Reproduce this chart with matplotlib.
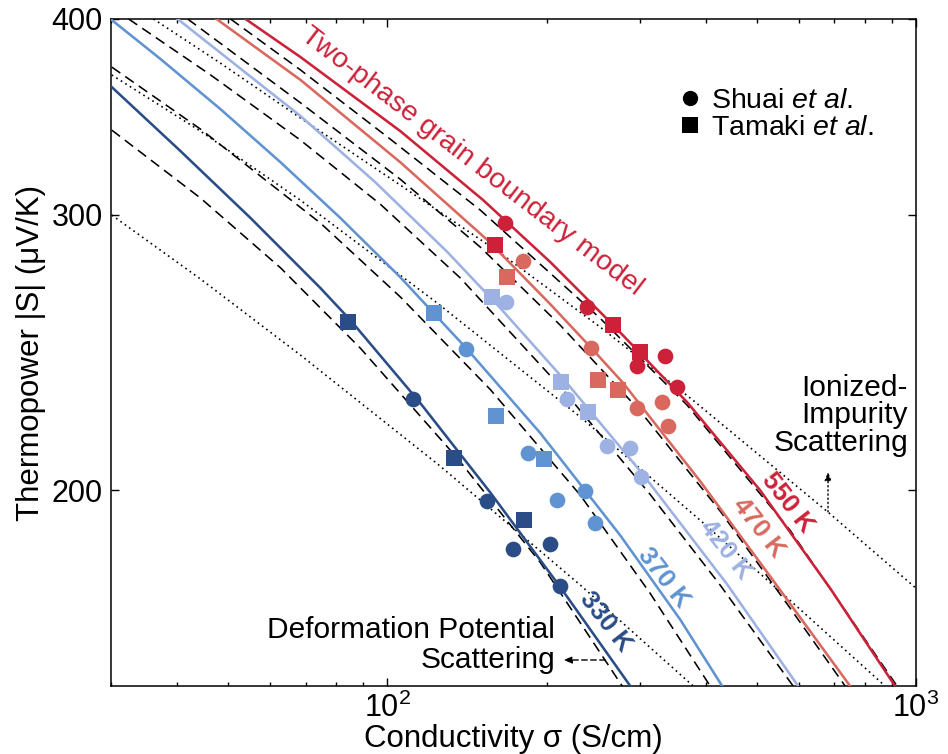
import matplotlib
matplotlib.use('Agg')
import matplotlib.pyplot as plt
from matplotlib.lines import Line2D
from matplotlib.ticker import FixedLocator, NullLocator, FuncFormatter, LogLocator

plt.rcParams['font.family'] = ['Liberation Sans', 'DejaVu Sans']
plt.rcParams['mathtext.fontset'] = 'custom'
plt.rcParams['mathtext.rm'] = 'Liberation Sans'
plt.rcParams['mathtext.it'] = 'Liberation Sans:italic'
plt.rcParams['mathtext.bf'] = 'Liberation Sans:bold'

# ---------------- data ----------------
temperatures = ['330 K', '370 K', '420 K', '470 K', '550 K']
colors = ['#2A4C87', '#5F93D1', '#9DB1E2', '#D9695F', '#CC2139']

# two-phase grain boundary model (solid)
model_sigma = {
    '330 K': [30.1, 40.6, 55.1, 74.7, 85.1, 115.4, 156.5, 212.3, 288.0],
    '370 K': [30.1, 37.2, 48.3, 62.8, 81.5, 105.8, 141.0, 194.6, 275.7, 358.0, 429.8],
    '420 K': [40.1, 68.5, 94.9, 129.8, 163.5, 213.3, 302.1, 439.2, 598.4],
    '470 K': [47.5, 68.5, 105.8, 154.6, 203.3, 243.0, 279.3, 390.6, 536.6, 750.4],
    '550 K': [53.9, 68.5, 105.8, 151.9, 203.3, 267.4, 369.0, 507.3, 687.8, 912.8],
}
model_S = {
    '330 K': [361.9, 329.4, 298.5, 269.3, 256.9, 227.4, 199.4, 173.5, 150.0],
    '370 K': [399.4, 377.2, 350.4, 324.0, 298.5, 273.6, 246.5, 217.6, 187.2, 165.4, 150.0],
    '420 K': [400.0, 346.8, 314.6, 284.0, 261.5, 236.5, 205.4, 174.2, 150.0],
    '470 K': [400.0, 365.7, 324.0, 289.0, 263.0, 246.6, 234.2, 202.7, 175.2, 150.0],
    '550 K': [400.0, 378.2, 339.2, 306.4, 279.8, 255.0, 227.7, 200.0, 173.2, 150.0],
}

# deformation potential scattering (dashed)
dp_sigma = {
    '330 K': [30.1, 44.3, 62.8, 88.9, 135.6, 194.6, 278.1],
    '370 K': [30.1, 44.3, 74.7, 105.8, 156.5, 231.7, 314.1, 407.9],
    '420 K': [32.4, 46.3, 68.5, 97.0, 137.4, 212.3, 314.1, 426.1, 585.5],
    '470 K': [41.9, 68.5, 105.8, 149.9, 212.3, 300.8, 426.1, 577.9, 734.4],
    '550 K': [50.5, 68.5, 101.3, 149.9, 252.6, 369.0, 577.9, 920.6],
}
dp_S = {
    '330 K': [339.7, 307.4, 277.4, 246.5, 209.7, 179.9, 150.0],
    '370 K': [372.7, 340.2, 296.3, 265.8, 232.0, 198.6, 171.9, 150.0],
    '420 K': [400.0, 368.4, 334.7, 304.6, 273.3, 233.0, 198.8, 174.0, 150.0],
    '470 K': [400.0, 353.6, 316.0, 286.0, 255.0, 224.7, 194.0, 168.2, 150.0],
    '550 K': [400.0, 371.1, 335.2, 302.0, 257.6, 226.7, 188.6, 150.0],
}

# ionized-impurity scattering (dotted)
ii_sigma = {
    '330 K': [30.1, 44.3, 68.5, 126.0, 231.7, 378.8],
    '370 K': [30.1, 44.3, 68.5, 124.3, 231.7, 390.6, 603.6, 873.8],
    '550 K': [36.1, 48.3, 68.5, 105.8, 163.5, 252.6, 378.8, 681.7, 1000.0],
}
ii_S = {
    '330 K': [299.8, 272.9, 244.0, 207.2, 174.0, 150.0],
    '370 K': [368.4, 339.2, 306.4, 263.4, 222.8, 191.4, 167.9, 150.0],
    '550 K': [400.0, 374.9, 345.8, 313.3, 283.5, 254.3, 228.3, 193.7, 173.2],
}

# experimental data
shuai_sigma = {
    '330 K': [112.0, 154.6, 173.1, 203.3, 212.3],
    '370 K': [141.0, 184.7, 209.6, 236.7, 247.3],
    '420 K': [167.9, 218.9, 260.6, 288.0, 302.1],
    '470 K': [180.7, 243.0, 296.9, 331.1, 339.8],
    '550 K': [167.2, 238.8, 296.9, 335.4, 353.3],
}
shuai_S = {
    '330 K': [228.7, 196.8, 183.6, 184.8, 173.7],
    '370 K': [246.2, 211.2, 197.1, 199.7, 190.6],
    '420 K': [263.8, 228.7, 213.4, 212.8, 203.9],
    '470 K': [280.1, 246.6, 225.7, 227.7, 219.8],
    '550 K': [296.2, 261.8, 240.1, 243.6, 232.8],
}
tamaki_sigma = {
    '330 K': [84.4, 133.9, 181.5],
    '370 K': [122.7, 160.7, 198.1],
    '420 K': [157.9, 213.3, 239.9],
    '470 K': [168.6, 250.6, 273.3],
    '550 K': [160.0, 267.4, 300.7],
}
tamaki_S = {
    '330 K': [256.2, 209.7, 191.6],
    '370 K': [259.6, 223.1, 209.4],
    '420 K': [265.8, 234.5, 224.4],
    '470 K': [273.6, 235.1, 231.7],
    '550 K': [286.8, 255.0, 245.1],
}

x_limits = [30, 1000]
y_limits = [150, 400]
y_ticks = [200, 300, 400]

# ---------------- figure ----------------
fig = plt.figure(figsize=(9.48, 7.54), dpi=100)
ax = fig.add_axes([111/948, 1-686/754, 805/948, 667/754])
ax.set_xscale('log')
ax.set_yscale('log')

for T, c in zip(temperatures, colors):
    ax.plot(dp_sigma[T], dp_S[T], color='black', lw=1.15, dashes=(6.5, 3.8), zorder=2)
    if T in ii_sigma:
        ax.plot(ii_sigma[T], ii_S[T], color='black', lw=1.2, dashes=(1.0, 2.2), zorder=2)
    ax.plot(model_sigma[T], model_S[T], color=c, lw=1.85, zorder=3, solid_joinstyle='round')
    ax.plot(shuai_sigma[T], shuai_S[T], ls='none', marker='o', ms=11.3, color=c, mew=0, zorder=4)
    ax.plot(tamaki_sigma[T], tamaki_S[T], ls='none', marker='s', ms=11.3, color=c, mew=0, zorder=4)

ax.set_xlim(*x_limits)
ax.set_ylim(*y_limits)
ax.yaxis.set_major_locator(FixedLocator(y_ticks))
ax.yaxis.set_minor_locator(NullLocator())
ax.yaxis.set_major_formatter(FuncFormatter(lambda v, p: f'{v:.0f}'))
ax.xaxis.set_major_locator(LogLocator(base=10))
ax.xaxis.set_minor_locator(LogLocator(base=10, subs=range(2, 10)))

ax.tick_params(which='both', direction='in', top=True, right=True, width=1.0)
ax.tick_params(which='major', length=5.5, labelsize=22)
ax.tick_params(which='minor', length=3.2)
ax.tick_params(axis='y', pad=6)
ax.tick_params(axis='x', pad=5)
for s in ax.spines.values():
    s.set_linewidth(1.1)

ax.set_xlabel('Conductivity σ (S/cm)', fontsize=22.5, labelpad=0)
ax.set_ylabel('Thermopower |S| (μV/K)', fontsize=22.5)
ax.yaxis.set_label_coords(-0.081, 0.5)

# annotations
ax.text(0.448, 0.787, 'Two-phase grain boundary model', transform=ax.transAxes,
        rotation=-37.5, color=colors[4], fontsize=20.5, ha='center', va='center',
        rotation_mode='anchor')
label_pos = {'330 K': (0.614, 0.096), '370 K': (0.686, 0.163), '420 K': (0.763, 0.204),
             '470 K': (0.804, 0.237), '550 K': (0.841, 0.274)}
for T, c in zip(temperatures, colors):
    ax.text(*label_pos[T], T, transform=ax.transAxes, rotation=-52, color=c,
            fontsize=18.5, fontweight='bold', ha='center', va='center', rotation_mode='anchor')

ax.text(0.5516, 0.062, 'Deformation Potential\nScattering', transform=ax.transAxes,
        ha='right', va='center', multialignment='right', fontsize=21.5, linespacing=1.08)
ax.annotate('', xy=(0.562, 0.039), xytext=(0.614, 0.039), xycoords='axes fraction',
            arrowprops=dict(arrowstyle='-|>,head_length=0.5,head_width=0.2', lw=1.0,
                            ls=(0, (4, 2.5)), color='black', shrinkA=0, shrinkB=0))
ax.text(0.99, 0.406, 'Ionized-\nImpurity\nScattering', transform=ax.transAxes,
        ha='right', va='center', multialignment='right', fontsize=21.5, linespacing=0.97)
ax.annotate('', xy=(0.8907, 0.321), xytext=(0.8907, 0.261), xycoords='axes fraction',
            arrowprops=dict(arrowstyle='-|>,head_length=0.5,head_width=0.2', lw=1.0,
                            ls=(0, (1, 2)), color='black', shrinkA=0, shrinkB=0))

handles = [Line2D([], [], ls='none', marker='o', ms=11, color='black', mew=0),
           Line2D([], [], ls='none', marker='s', ms=11, color='black', mew=0)]
labels = [r'Shuai $\mathit{et\ al.}$', r'Tamaki $\mathit{et\ al.}$']
ax.legend(handles, labels, loc='upper left', bbox_to_anchor=(0.705, 0.897), frameon=False,
          fontsize=20.5, handlelength=0.8, handletextpad=0.35, labelspacing=0.05,
          borderpad=0, borderaxespad=0)

fig.savefig('out.png', dpi=100)
